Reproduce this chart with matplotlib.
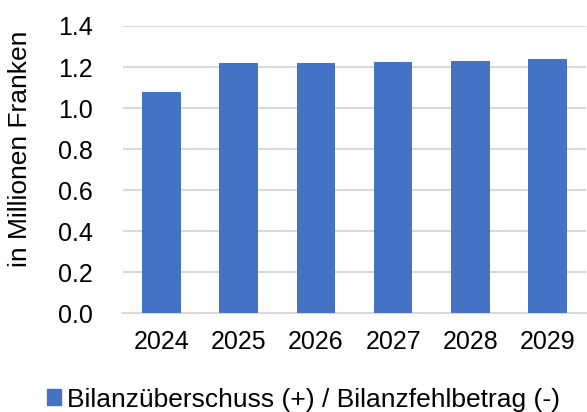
import matplotlib
matplotlib.use("Agg")
from matplotlib import pyplot as plt
from matplotlib.patches import Patch

plt.rcParams['font.family'] = ['Liberation Sans', 'DejaVu Sans']

years = ["2024", "2025", "2026", "2027", "2028", "2029"]
values = [1.08, 1.22, 1.221, 1.226, 1.231, 1.237]
yticks = [0.0, 0.2, 0.4, 0.6, 0.8, 1.0, 1.2, 1.4]
legend_label = "Bilanzüberschuss (+) / Bilanzfehlbetrag (-)"
bar_color = "#4472C4"

fig = plt.figure(figsize=(5.87, 4.12), dpi=100)
ax = fig.add_axes([0.2095, 0.2396, 0.789, 0.6973])

x = range(len(years))
ax.bar(x, values, width=0.5, color=bar_color, zorder=3)

ax.set_xlim(-0.5, len(years) - 0.5)
ax.set_ylim(0, 1.4)
ax.set_yticks(yticks)
ax.set_yticklabels([f"{v:.1f}" for v in yticks])
ax.set_xticks(list(x))
ax.set_xticklabels(years)
ax.tick_params(axis="both", length=0, labelsize=18, colors="black")
ax.tick_params(axis="x", pad=12)
ax.tick_params(axis="y", pad=21.5)

ax.grid(axis="y", color="#d9d9d9", linewidth=1.5, zorder=0)
for side in ["top", "right", "left"]:
    ax.spines[side].set_visible(False)
ax.spines["bottom"].set_color("#d9d9d9")
ax.spines["bottom"].set_linewidth(1.5)

# y label: centre sits at about x=20px, y=149px in the figure
ax.set_ylabel("in Millionen Franken", fontsize=19)
ax.yaxis.label.set_verticalalignment("center")
ax.yaxis.set_label_coords(-0.222, 0.572)

fig.legend(handles=[Patch(color=bar_color, label=legend_label)],
           loc="center", bbox_to_anchor=(0.517, 0.03), frameon=False,
           fontsize=19, handlelength=0.55, handleheight=0.55, handletextpad=0.23)

fig.savefig("out.png", dpi=100)
